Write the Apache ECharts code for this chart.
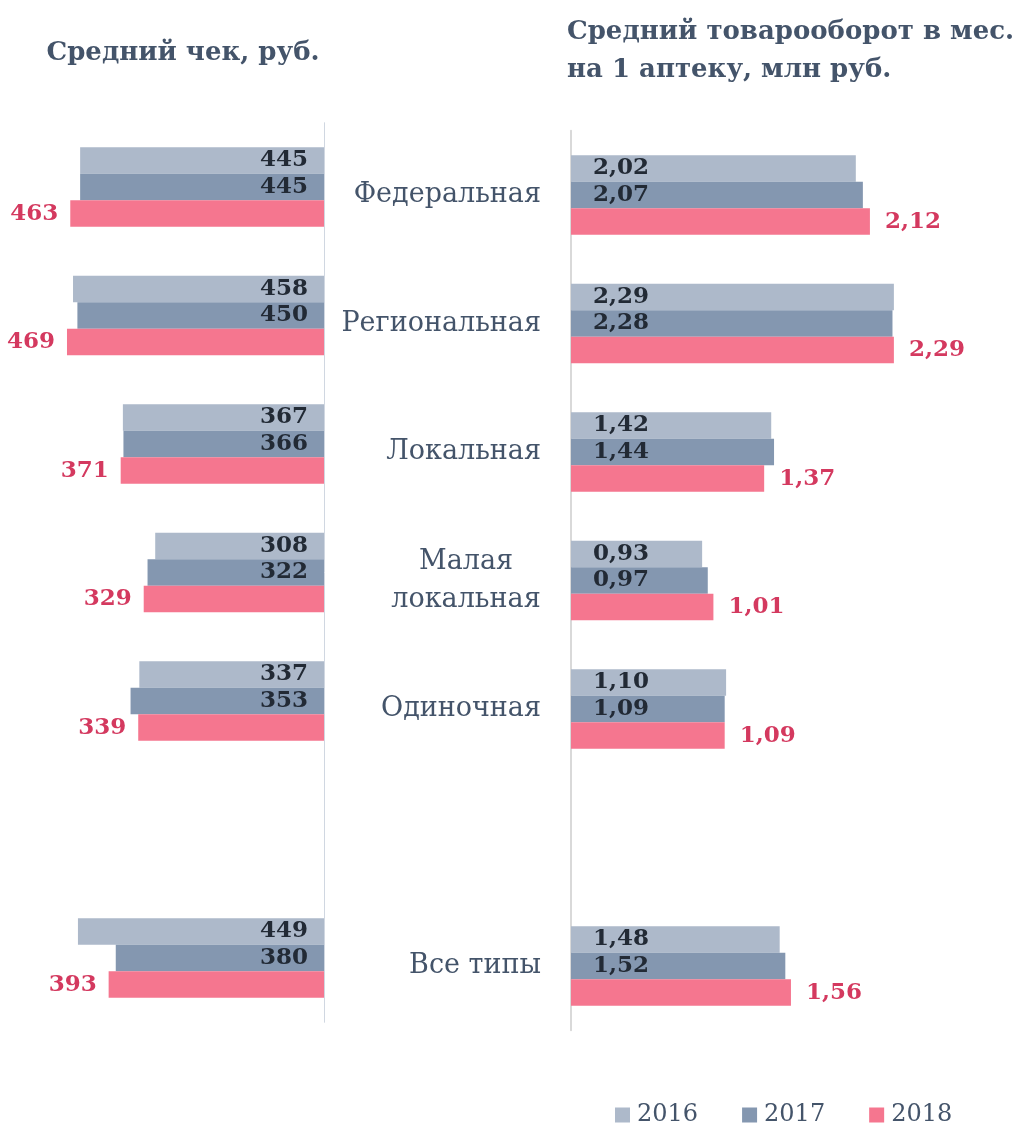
<!DOCTYPE html>
<html>
<head>
<meta charset="utf-8">
<script src="https://cdn.jsdelivr.net/npm/echarts@6/dist/echarts.min.js"></script>
<style>
  html, body { margin: 0; padding: 0; background: #fff; }
  #chart { width: 1017px; height: 1127px; }
</style>
</head>
<body>
<div id="chart"></div>
<script>
// категории (пустая строка - промежуток перед "Все типы")
const categories = ['Федеральная', 'Региональная', 'Локальная', 'Малая\nлокальная', 'Одиночная', '', 'Все типы'];
const years = ['2016', '2017', '2018'];

// средний чек, руб.
const check2016 = [445, 458, 367, 308, 337, null, 449];
const check2017 = [445, 450, 366, 322, 353, null, 380];
const check2018 = [463, 469, 371, 329, 339, null, 393];

// средний товарооборот в мес. на 1 аптеку, млн руб.
const turnover2016 = [2.02, 2.29, 1.42, 0.93, 1.10, null, 1.48];
const turnover2017 = [2.07, 2.28, 1.44, 0.97, 1.09, null, 1.52];
const turnover2018 = [2.12, 2.29, 1.37, 1.01, 1.09, null, 1.56];

const colors = ['#adb9ca', '#8497b0', '#f5768f'];
const font = 'DejaVu Serif';
const textColor = '#44546a';
const darkLabel = '#222a35';
const pinkLabel = '#d4395f';

const fmtComma = p => p.value.toFixed(2).replace('.', ',');

// двухстрочные подписи центрируются построчно
const fmtCategory = v => v.indexOf('\n') < 0 ? v : v.split('\n').map(s => '{c|' + s + '}').join('\n');

function series(name, data, idx, color, label) {
    return {
        name: name,
        type: 'bar',
        xAxisIndex: idx,
        yAxisIndex: idx,
        data: data,
        barGap: '0%',
        barCategoryGap: '38%',
        itemStyle: { color: color },
        label: label
    };
}

const labelFont = { fontFamily: font, fontWeight: 'bold', fontSize: 23 };

const innerLabelLeft = Object.assign({
    show: true, position: 'insideRight', distance: 16, color: darkLabel
}, labelFont);
const outerLabelLeft = Object.assign({
    show: true, position: 'left', distance: 12, color: pinkLabel
}, labelFont);
const innerLabelRight = Object.assign({
    show: true, position: 'insideLeft', distance: 22, formatter: fmtComma, color: darkLabel
}, labelFont);
const outerLabelRight = Object.assign({
    show: true, position: 'right', distance: 15, formatter: fmtComma, color: pinkLabel
}, labelFont);

const option = {
    backgroundColor: '#fff',
    animation: false,
    title: [{
        text: 'Средний чек, руб.',
        left: 178, top: 35, textAlign: 'center',
        textStyle: { fontFamily: font, fontWeight: 'bold', fontSize: 26, color: textColor }
    }, {
        text: 'Средний товарооборот в мес.\nна 1 аптеку, млн руб.',
        left: 562, top: 8,
        textStyle: { fontFamily: font, fontWeight: 'bold', fontSize: 26, color: textColor, lineHeight: 38 }
    }],
    legend: {
        data: years,
        left: 610, top: 1098,
        icon: 'rect', itemWidth: 15, itemHeight: 15, itemGap: 44,
        textStyle: { fontFamily: font, fontSize: 24, color: textColor, padding: [0, 0, 0, 2] }
    },
    grid: [
        { left: 50, right: 693, top: 122.75, bottom: 104.75 },
        { left: 571, right: 23, top: 130.75, bottom: 96.75 }
    ],
    xAxis: [
        { gridIndex: 0, type: 'value', inverse: true, min: 0, max: 500, show: false },
        { gridIndex: 1, type: 'value', min: 0, max: 3, show: false }
    ],
    yAxis: [{
        gridIndex: 0, type: 'category', inverse: true, data: categories,
        axisLine: { lineStyle: { color: '#d0d7e1', width: 1 } },
        axisTick: { show: false }, axisLabel: { show: false }
    }, {
        gridIndex: 1, type: 'category', inverse: true, data: categories,
        axisLine: { lineStyle: { color: '#d9d9d9', width: 2 } },
        axisTick: { show: false },
        axisLabel: {
            margin: 30, fontFamily: font, fontSize: 27, color: textColor, lineHeight: 38,
            formatter: fmtCategory,
            rich: { c: { width: 150, align: 'center', fontFamily: font, fontSize: 27, color: textColor, lineHeight: 38 } }
        }
    }],
    series: [
        series('2016', check2016, 0, colors[0], innerLabelLeft),
        series('2017', check2017, 0, colors[1], innerLabelLeft),
        series('2018', check2018, 0, colors[2], outerLabelLeft),
        series('2016', turnover2016, 1, colors[0], innerLabelRight),
        series('2017', turnover2017, 1, colors[1], innerLabelRight),
        series('2018', turnover2018, 1, colors[2], outerLabelRight)
    ]
};

echarts.init(document.getElementById('chart')).setOption(option);
</script>
</body>
</html>
